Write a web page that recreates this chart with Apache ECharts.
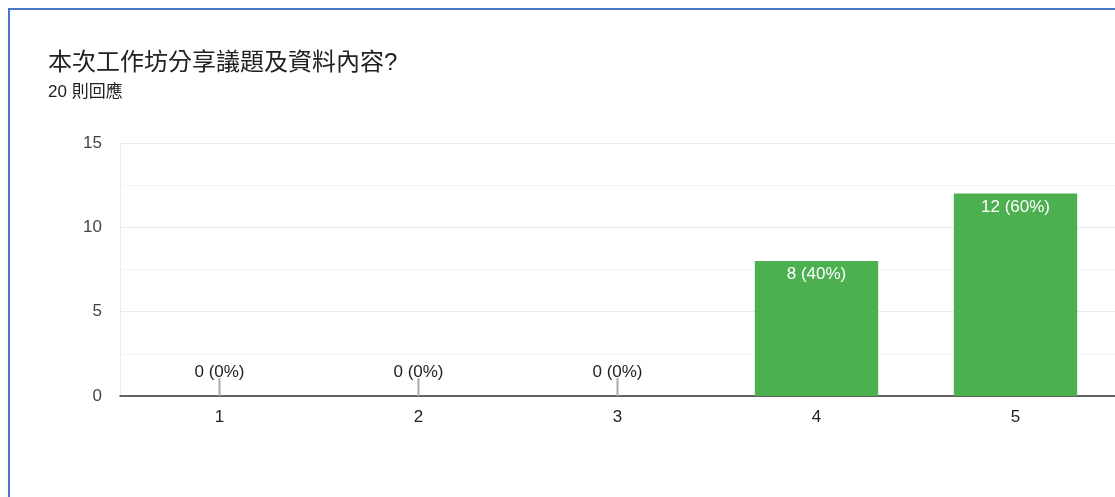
<!DOCTYPE html>
<html>
<head>
<meta charset="utf-8">
<script src="https://cdn.jsdelivr.net/npm/echarts@6/dist/echarts.min.js"></script>
<style>
  html, body { margin: 0; padding: 0; background: #fff; }
  #frame { position: absolute; left: 8px; top: 8px; width: 1120px; height: 500px;
           border-left: 2px solid #4a76c9; border-top: 2px solid #4a76c9; }
  #chart { width: 1115px; height: 497px; position: absolute; left: 0; top: 0; }
</style>
</head>
<body>
<div id="frame"></div>
<div id="chart"></div>
<script>
  // 資料
  var categories = ['1', '2', '3', '4', '5'];
  var counts = [0, 0, 0, 8, 12];
  var total = 20;
  var yTicks = [0, 5, 10, 15];

  var chart = echarts.init(document.getElementById('chart'));
  var font = '"Liberation Sans", Arial, "Noto Sans CJK TC", sans-serif';

  function pct(v) {
    return v + ' (' + Math.round(v / total * 100) + '%)';
  }

  chart.setOption({
    animation: false,
    textStyle: { fontFamily: font },
    title: {
      text: '本次工作坊分享議題及資料內容?',
      subtext: total + ' 則回應',
      left: 43,
      top: 46,
      itemGap: 9,
      textStyle: { fontSize: 24, fontWeight: 'normal', color: '#202124', fontFamily: font },
      subtextStyle: { fontSize: 17, color: '#202124', fontFamily: font }
    },
    grid: { left: 120, top: 143, width: 1001, height: 253 },
    xAxis: {
      type: 'category',
      data: categories,
      axisLine: { lineStyle: { color: '#333', width: 1.5 } },
      axisTick: { show: false },
      axisLabel: { color: '#222', fontSize: 17, margin: 13 }
    },
    yAxis: {
      type: 'value',
      min: yTicks[0],
      max: yTicks[yTicks.length - 1],
      interval: 5,
      axisLine: { show: true, lineStyle: { color: '#ebebeb' } },
      axisTick: { show: false },
      axisLabel: { color: '#444', fontSize: 17, margin: 18, padding: [3, 0, 0, 0] },
      splitLine: { lineStyle: { color: '#ebebeb' } },
      minorTick: { show: false, splitNumber: 2 },
      minorSplitLine: { show: true, lineStyle: { color: '#f4f4f4' } }
    },
    series: [
      {
        type: 'bar',
        data: counts,
        barWidth: '62%',
        itemStyle: { color: '#4caf50' },
        label: {
          show: true,
          position: 'insideTop',
          distance: 5,
          color: '#fff',
          fontSize: 17,
          formatter: function (p) { return p.value > 0 ? pct(p.value) : ''; }
        }
      },
      {
        // 0 票的灰色短線與標籤
        type: 'custom',
        data: counts.map(function (v, i) { return [i, v]; }),
        z: 5,
        renderItem: function (params, api) {
          if (api.value(1) !== 0) return null;
          var p = api.coord([api.value(0), 0]);
          return {
            type: 'group',
            children: [
              { type: 'line', shape: { x1: p[0], y1: p[1], x2: p[0], y2: p[1] - 18 },
                style: { stroke: '#aaa', lineWidth: 2 } },
              { type: 'text', x: p[0], y: p[1] - 24,
                style: { text: pct(api.value(1)), fill: '#222', fontSize: 17, fontFamily: font,
                         align: 'center', verticalAlign: 'middle' } }
            ]
          };
        }
      }
    ]
  });
</script>
</body>
</html>
